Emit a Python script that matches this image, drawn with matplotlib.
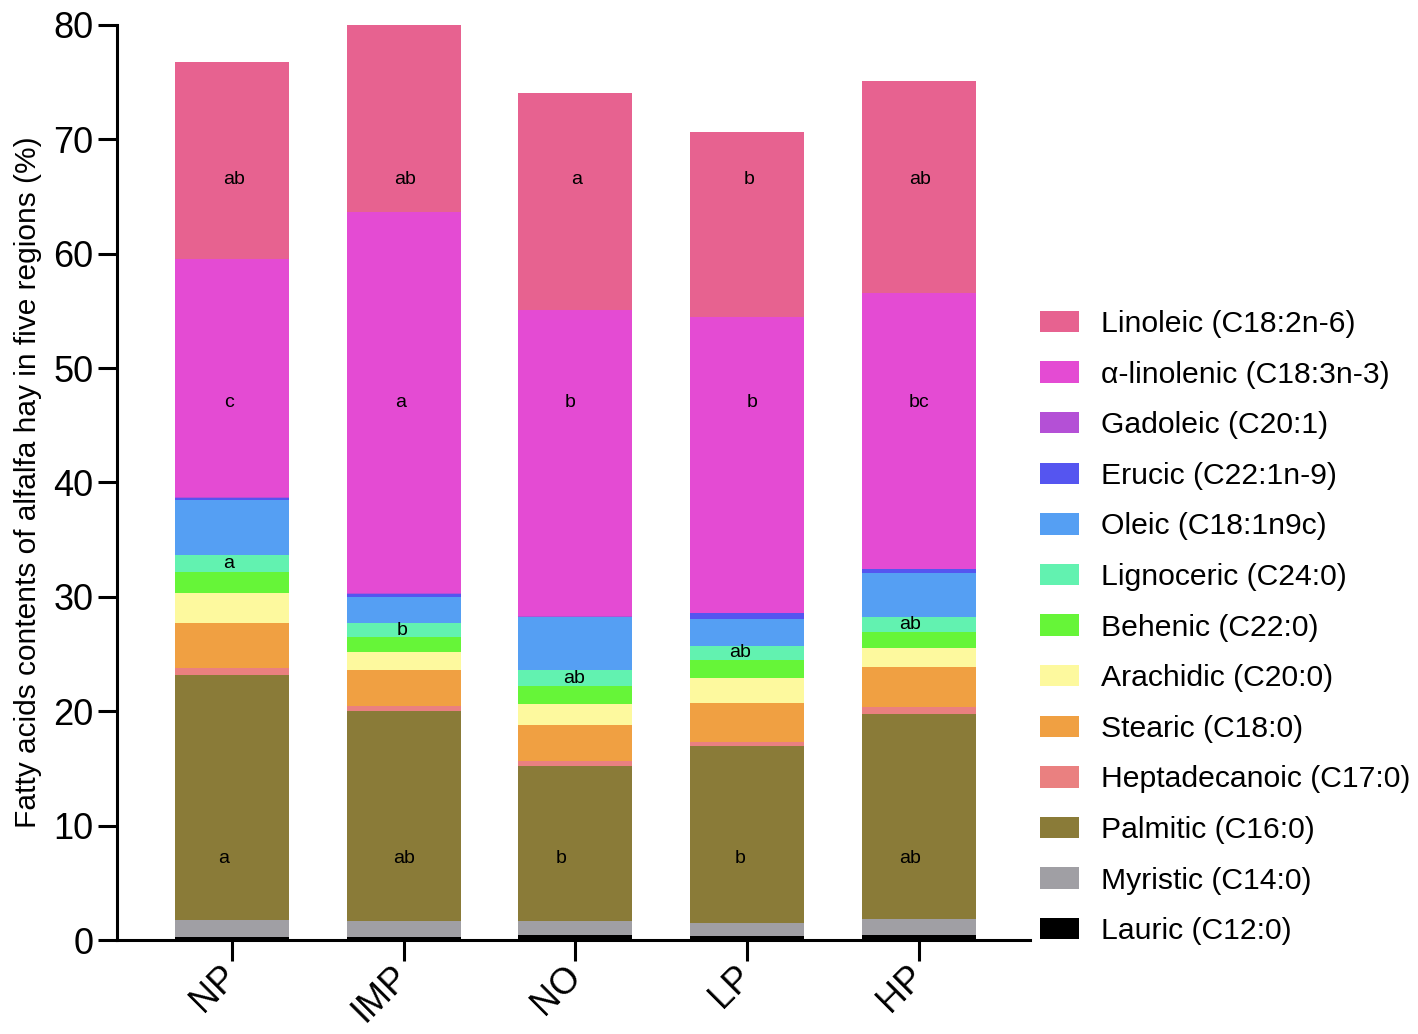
import numpy as np
import matplotlib.pyplot as plt
from matplotlib.patches import Patch

plt.rcParams['font.family'] = ['Liberation Sans', 'DejaVu Sans']

regions = ['NP', 'IMP', 'NO', 'LP', 'HP']

# Fatty acids, bottom to top (% of total)
lauric = [0.30, 0.30, 0.45, 0.35, 0.40]
myristic = [1.45, 1.35, 1.25, 1.15, 1.40]
palmitic = [21.45, 18.35, 13.50, 15.50, 18.00]
heptadecanoic = [0.60, 0.45, 0.45, 0.30, 0.60]
stearic = [3.90, 3.15, 3.15, 3.40, 3.50]
arachidic = [2.60, 1.60, 1.80, 2.20, 1.60]
behenic = [1.90, 1.30, 1.60, 1.60, 1.40]
lignoceric = [1.50, 1.20, 1.40, 1.20, 1.30]
oleic = [4.80, 2.30, 4.60, 2.40, 3.90]
erucic = [0.15, 0.25, 0.05, 0.45, 0.30]
gadoleic = [0.10, 0.05, 0.05, 0.05, 0.05]
linolenic = [20.75, 33.35, 26.75, 25.90, 24.15]
linoleic = [17.30, 16.40, 19.00, 16.10, 18.50]

series = [
    ('Lauric (C12:0)', lauric, '#000000'),
    ('Myristic (C14:0)', myristic, '#a09fa4'),
    ('Palmitic (C16:0)', palmitic, '#8a7b38'),
    ('Heptadecanoic (C17:0)', heptadecanoic, '#ea8080'),
    ('Stearic (C18:0)', stearic, '#f0a042'),
    ('Arachidic (C20:0)', arachidic, '#fdf99e'),
    ('Behenic (C22:0)', behenic, '#66f538'),
    ('Lignoceric (C24:0)', lignoceric, '#62f2b0'),
    ('Oleic (C18:1n9c)', oleic, '#559ff3'),
    ('Erucic (C22:1n-9)', erucic, '#5555f0'),
    ('Gadoleic (C20:1)', gadoleic, '#b450d6'),
    ('\u03b1-linolenic (C18:3n-3)', linolenic, '#e44bd3'),
    ('Linoleic (C18:2n-6)', linoleic, '#e76290'),
]

# significance letters
letters_linoleic = ['ab', 'ab', 'a', 'b', 'ab']
letters_linolenic = ['c', 'a', 'b', 'b', 'bc']
letters_lignoceric = ['a', 'b', 'ab', 'ab', 'ab']
letters_palmitic = ['a', 'ab', 'b', 'b', 'ab']

fig = plt.figure(figsize=(14.18, 10.34), dpi=100)
ax = fig.add_axes([0.0825, 0.0909, 0.644, 0.885])

x = np.arange(len(regions))
bottom = np.zeros(len(regions))
bottoms = {}
for name, vals, col in series:
    vals = np.array(vals)
    ax.bar(x, vals, 0.665, bottom=bottom, color=col, edgecolor='none')
    bottoms[name] = (bottom.copy(), vals)
    bottom = bottom + vals

def mid(name):
    b, v = bottoms[name]
    return b + v / 2

dx_lin = [-0.02, -0.02, -0.03, 0.03, 0.0]
dx_lig = [-0.02, -0.01, -0.01, -0.04, -0.05]
dx_pal = [-0.05, 0.0, -0.08, -0.04, -0.05]
for i in range(len(regions)):
    ax.text(x[i] + 0.01, 66.5, letters_linoleic[i], ha='center', va='center', fontsize=14)
    ax.text(x[i] + dx_lin[i], 47.0, letters_linolenic[i], ha='center', va='center', fontsize=14)
    ax.text(x[i] + dx_lig[i], mid('Lignoceric (C24:0)')[i], letters_lignoceric[i],
            ha='center', va='center', fontsize=14)
    ax.text(x[i] + dx_pal[i], 7.1, letters_palmitic[i], ha='center', va='center', fontsize=14)

ax.set_xlim(-0.67, 4.65)
ax.set_ylim(0, 80)
ax.set_yticks(np.arange(0, 81, 10))
ax.set_xticks(x)
ax.set_xticklabels(regions, rotation=45, ha='right', va='center',
                   rotation_mode='anchor', fontsize=26)
ax.tick_params(axis='y', labelsize=26, width=2.2, length=14, direction='out', pad=3)
ax.tick_params(axis='x', width=2.2, length=15, direction='out', pad=7)
for s in ['top', 'right']:
    ax.spines[s].set_visible(False)
for s in ['left', 'bottom']:
    ax.spines[s].set_linewidth(2.2)

ax.set_ylabel('Fatty acids contents of alfalfa hay in five regions (%)', fontsize=21.5, labelpad=8)

handles = [Patch(facecolor=col, edgecolor='none', label=name) for name, vals, col in series[::-1]]
fig.legend(handles=handles, loc='center left', bbox_to_anchor=(0.725, 0.393),
           frameon=False, fontsize=21.7, handlelength=1.3, handleheight=0.72,
           labelspacing=0.75, handletextpad=0.72, borderaxespad=0)

fig.savefig('out.png', dpi=100)
